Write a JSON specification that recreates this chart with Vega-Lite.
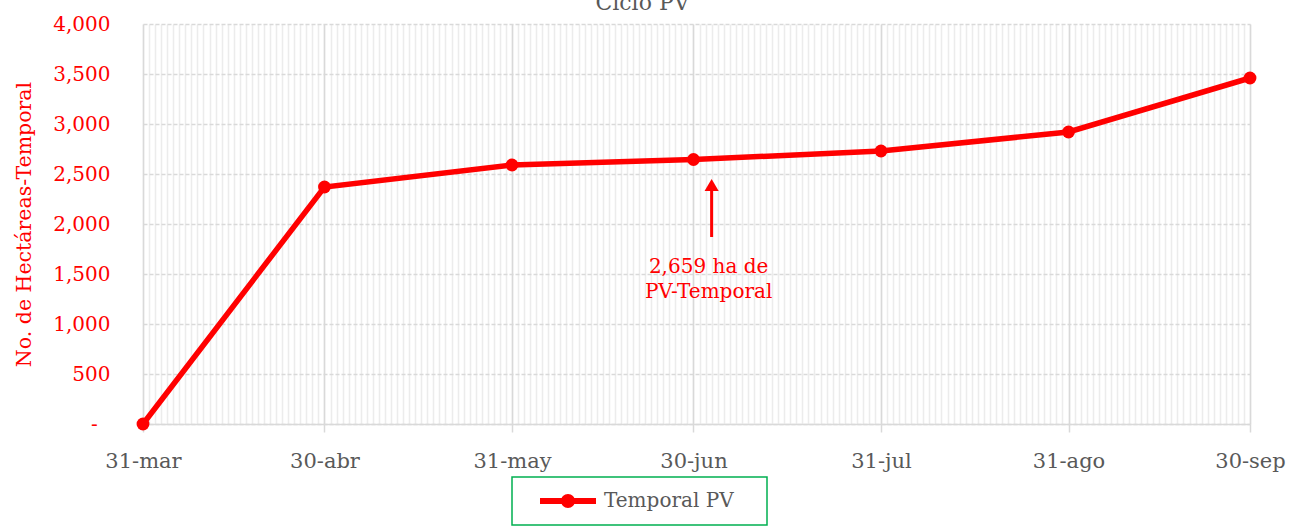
{
  "$schema": "https://vega.github.io/schema/vega-lite/v6.json",
  "width": 1107,
  "height": 400,
  "autosize": {"type": "none"},
  "padding": {"left": 143, "top": 24, "right": 39, "bottom": 102},
  "background": "white",
  "title": {"text": "Ciclo PV", "font": "DejaVu Serif", "fontSize": 22, "fontWeight": "normal", "color": "#595959", "anchor": "middle", "dx": -54, "baseline": "alphabetic", "offset": -18},
  "config": {
    "view": {"stroke": null},
    "font": "DejaVu Serif",
    "legend": {"strokeColor": "#00b050", "strokeWidth": 1.5, "fillColor": "white", "padding": 14}
  },
  "datasets": {
    "pv": [
      {"fecha": "2023-03-31T00:00:00", "ha": 0, "serie": "Temporal PV"},
      {"fecha": "2023-04-30T00:00:00", "ha": 2370, "serie": "Temporal PV"},
      {"fecha": "2023-05-31T00:00:00", "ha": 2590, "serie": "Temporal PV"},
      {"fecha": "2023-06-30T00:00:00", "ha": 2645, "serie": "Temporal PV"},
      {"fecha": "2023-07-31T00:00:00", "ha": 2730, "serie": "Temporal PV"},
      {"fecha": "2023-08-31T00:00:00", "ha": 2920, "serie": "Temporal PV"},
      {"fecha": "2023-09-30T00:00:00", "ha": 3460, "serie": "Temporal PV"}
    ],
    "flecha": [
      {"fecha": "2023-07-03T00:00:00", "ha": 1870, "ha2": 2350, "punta": 2390}
    ],
    "nota": [
      {"fecha": "2023-07-02T12:00:00", "ha": 1575, "texto": "2,659 ha de\nPV-Temporal"}
    ]
  },
  "resolve": {"axis": {"x": "independent"}},
  "layer": [
    {
      "data": {"name": "flecha"},
      "mark": {"type": "rule", "color": "#ff0000", "strokeWidth": 3},
      "encoding": {
        "x": {"field": "fecha", "type": "temporal",
              "axis": {"orient": "bottom", "tickCount": {"interval": "day", "step": 1}, "grid": true, "gridColor": "#ececec", "gridWidth": 1.5, "labels": false, "ticks": false, "domain": false, "title": null, "zindex": 0}},
        "y": {"field": "ha", "type": "quantitative", "title": "No. de Hectáreas-Temporal"},
        "y2": {"field": "ha2"}
      }
    },
    {
      "data": {"name": "pv"},
      "mark": {"type": "line", "strokeWidth": 5.5, "point": {"filled": true, "size": 165}},
      "encoding": {
        "x": {"field": "fecha", "type": "temporal",
              "scale": {"domain": [{"year": 2023, "month": 3, "date": 31}, {"year": 2023, "month": 9, "date": 30}]},
              "axis": {"orient": "bottom", "values": [{"year": 2023, "month": 3, "date": 31}, {"year": 2023, "month": 4, "date": 30}, {"year": 2023, "month": 5, "date": 31}, {"year": 2023, "month": 6, "date": 30}, {"year": 2023, "month": 7, "date": 31}, {"year": 2023, "month": 8, "date": 31}, {"year": 2023, "month": 9, "date": 30}],
                       "labelExpr": "timeFormat(datum.value, '%d') + '-' + ['ene','feb','mar','abr','may','jun','jul','ago','sep','oct','nov','dic'][month(datum.value)]",
                       "title": null, "grid": true, "gridColor": "#d9d9d9", "gridWidth": 1.5,
                       "domainColor": "#d9d9d9", "domainWidth": 1.5, "tickColor": "#d9d9d9", "tickSize": 8, "tickWidth": 1.5,
                       "labelFont": "DejaVu Serif", "labelFontSize": 21, "labelColor": "#595959", "labelPadding": 18,
                       "labelFlush": false, "labelOverlap": false, "zindex": 0}},
        "y": {"field": "ha", "type": "quantitative",
              "scale": {"domain": [0, 4000]},
              "axis": {"title": "No. de Hectáreas-Temporal", "values": [0, 500, 1000, 1500, 2000, 2500, 3000, 3500, 4000],
                       "labelExpr": "datum.value == 0 ? '-\u00a0\u00a0\u200b' : format(datum.value, ',')",
                       "grid": true, "gridColor": "#d9d9d9", "gridDash": [4, 2], "gridWidth": 1.5,
                       "domain": false, "ticks": false,
                       "labelFont": "DejaVu Serif", "labelFontSize": 20, "labelColor": "#ff0000", "labelPadding": 33,
                       "titleFont": "DejaVu Serif", "titleFontSize": 20.5, "titleFontWeight": "normal", "titleColor": "#ff0000", "titlePadding": 18}},
        "color": {"field": "serie", "type": "nominal", "scale": {"range": ["#ff0000"]},
                  "legend": {"title": null, "orient": "none", "legendX": 369, "legendY": 453,
                             "symbolType": "M-2.8,-0.3H2.8V0.3H-2.8Z M0.7,0A0.7,0.7,0,1,1,-0.7,0A0.7,0.7,0,1,1,0.7,0Z",
                             "symbolSize": 400, "symbolOffset": 32, "labelOffset": 26,
                             "labelExpr": "datum.label + '\u00a0\u00a0\u00a0\u200b'",
                             "symbolFillColor": "#ff0000", "symbolStrokeWidth": 0,
                             "labelFont": "DejaVu Serif", "labelFontSize": 20, "labelColor": "#595959"}}
      }
    },
    {
      "data": {"name": "flecha"},
      "mark": {"type": "point", "shape": "triangle-up", "filled": true, "color": "#ff0000", "size": 200, "opacity": 1},
      "encoding": {
        "x": {"field": "fecha", "type": "temporal", "axis": null},
        "y": {"field": "punta", "type": "quantitative", "title": "No. de Hectáreas-Temporal"}
      }
    },
    {
      "data": {"name": "nota"},
      "mark": {"type": "text", "color": "#ff0000", "font": "DejaVu Serif", "fontSize": 20, "lineBreak": "\n", "lineHeight": 25, "align": "center", "baseline": "middle"},
      "encoding": {
        "x": {"field": "fecha", "type": "temporal", "axis": null},
        "y": {"field": "ha", "type": "quantitative", "title": "No. de Hectáreas-Temporal"},
        "text": {"field": "texto"}
      }
    }
  ]
}
